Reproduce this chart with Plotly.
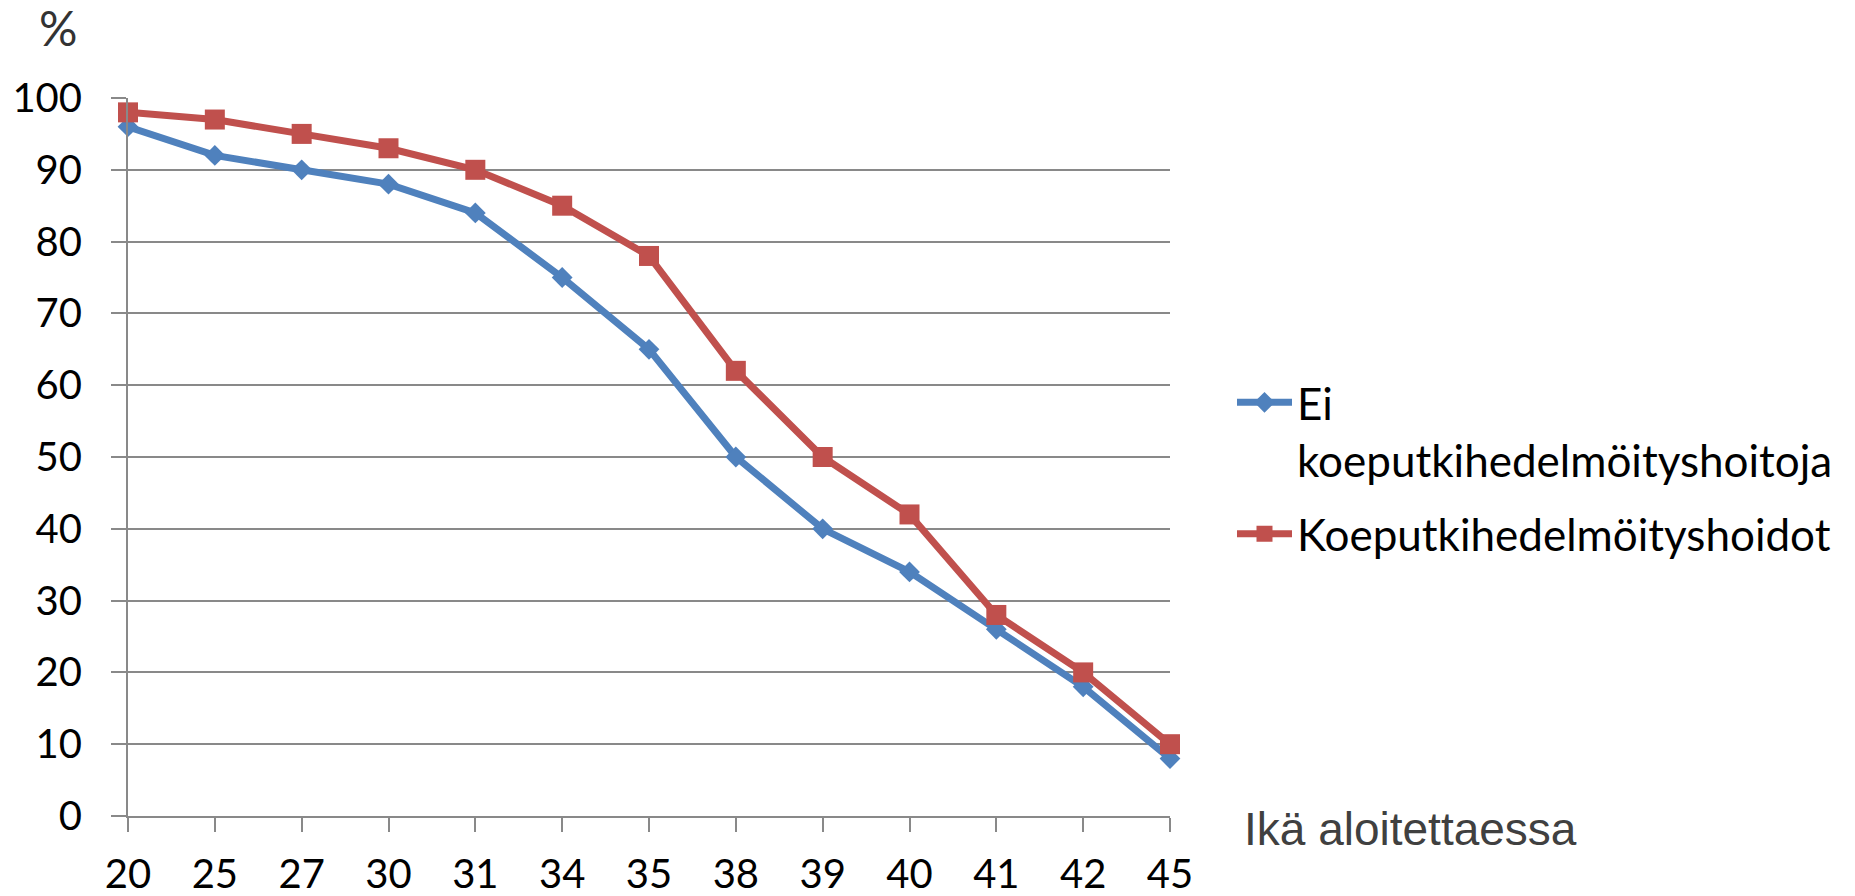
import plotly.graph_objects as go

categories = ["20", "25", "27", "30", "31", "34", "35", "38", "39", "40", "41", "42", "45"]
ei_hoitoja = [96, 92, 90, 88, 84, 75, 65, 50, 40, 34, 26, 18, 8]
hoidot = [98, 97, 95, 93, 90, 85, 78, 62, 50, 42, 28, 20, 10]
series_names = ["Ei<br>koeputkihedelmöityshoitoja", "Koeputkihedelmöityshoidot"]
y_ticks = list(range(0, 101, 10))

xs = list(range(len(categories)))
FONT = "Lato, Carlito, Calibri, 'Open Sans', sans-serif"

fig = go.Figure()
fig.add_trace(go.Scatter(
    x=xs, y=ei_hoitoja, name=series_names[0], mode="lines+markers",
    legendgroup="a",
    line=dict(color="#4F81BD", width=7),
    marker=dict(symbol="diamond", size=16, color="#4F81BD"),
    cliponaxis=False,
))
fig.add_trace(go.Scatter(
    x=xs, y=hoidot, name=series_names[1], mode="lines+markers",
    legendgroup="b",
    line=dict(color="#C0504D", width=7),
    marker=dict(symbol="square", size=20, color="#C0504D"),
    cliponaxis=False,
))

fig.update_layout(
    width=1855, height=896,
    margin=dict(l=128, r=685, t=98, b=80, autoexpand=False),
    paper_bgcolor="white", plot_bgcolor="white",
    font=dict(family=FONT, size=40, color="black"),
    showlegend=True,
    legend=dict(
        x=1.0595, y=0.625, xanchor="left", yanchor="top",
        font=dict(family=FONT, size=44, color="black"),
        valign="top", bgcolor="rgba(0,0,0,0)",
        traceorder="grouped", tracegroupgap=14,
        itemwidth=55,
    ),
    xaxis=dict(
        range=[0, len(categories) - 1],
        tickmode="array", tickvals=xs, ticktext=categories,
        showgrid=False, zeroline=False,
        showline=True, linecolor="#898989", linewidth=2,
        ticks="outside", ticklen=14, tickwidth=2, tickcolor="#898989",
        tickfont=dict(family=FONT, size=40, color="black"),
        ticklabelstandoff=8,
    ),
    yaxis=dict(
        range=[0, 100],
        tickmode="array", tickvals=y_ticks,
        showgrid=True, gridcolor="#898989", gridwidth=2,
        zeroline=False,
        showline=True, linecolor="#898989", linewidth=2,
        ticks="outside", ticklen=15, tickwidth=2, tickcolor="#898989",
        tickfont=dict(family=FONT, size=40, color="black"),
        ticklabelstandoff=21,
    ),
    annotations=[
        dict(text="%", xref="paper", yref="paper", x=-0.067, y=1.0975,
             xanchor="center", yanchor="middle", showarrow=False,
             font=dict(family=FONT, size=48, color="#333333")),
        dict(text="Ikä aloitettaessa", xref="paper", yref="paper", x=1.069, y=-0.018,
             xanchor="left", yanchor="middle", showarrow=False,
             font=dict(family="'Liberation Sans', Arial, sans-serif", size=46, color="#404040")),
    ],
)

fig.write_html(
    "out.html",
    config={"displayModeBar": False},
    post_script="document.body.style.margin='0px';document.body.style.overflow='hidden';",
)
